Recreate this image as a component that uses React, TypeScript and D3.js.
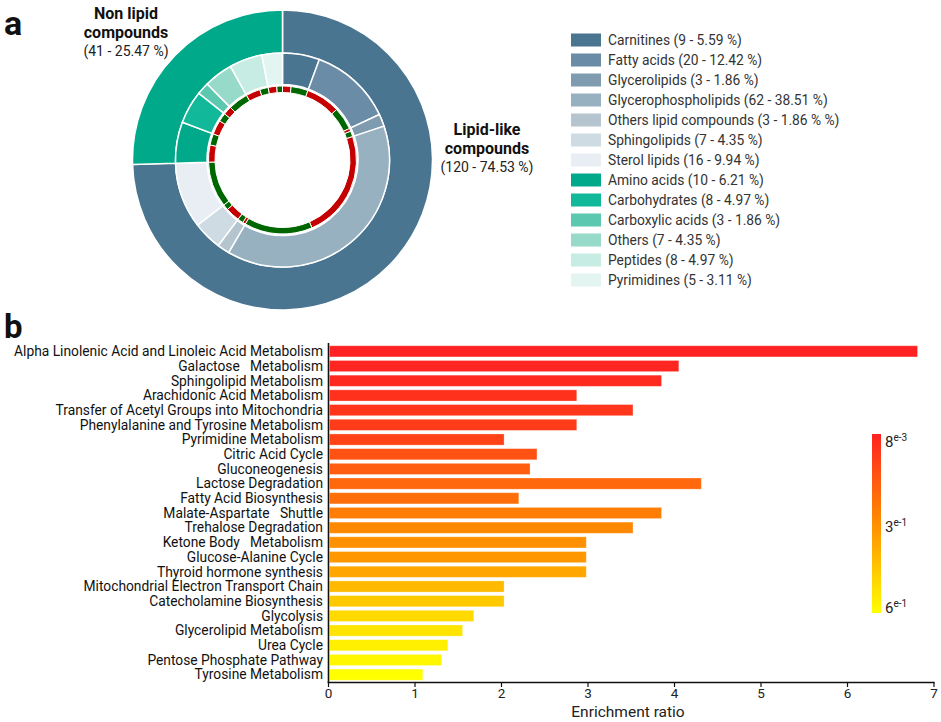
import React from 'react';
import * as d3 from 'd3';

// ---------- Panel a data ----------
const mainCategories = ['Lipid-like compounds', 'Non lipid compounds'];
const mainCounts = [120, 41];
const mainColors = ['#4a7591', '#00a98a'];

const subCategories = [
  'Carnitines', 'Fatty acids', 'Glycerolipids', 'Glycerophospholipids',
  'Others lipid compounds', 'Sphingolipids', 'Sterol lipids', 'Amino acids',
  'Carbohydrates', 'Carboxylic acids', 'Others', 'Peptides', 'Pyrimidines',
];
const subCounts = [9, 20, 3, 62, 3, 7, 16, 10, 8, 3, 7, 8, 5];
const subLegendLabels = [
  'Carnitines (9 - 5.59 %)', 'Fatty acids (20 - 12.42 %)', 'Glycerolipids (3 - 1.86 %)',
  'Glycerophospholipids (62 - 38.51 %)', 'Others lipid compounds (3 - 1.86 % %)',
  'Sphingolipids (7 - 4.35 %)', 'Sterol lipids (16 - 9.94 %)', 'Amino acids (10 - 6.21 %)',
  'Carbohydrates (8 - 4.97 %)', 'Carboxylic acids (3 - 1.86 %)', 'Others (7 - 4.35 %)',
  'Peptides (8 - 4.97 %)', 'Pyrimidines (5 - 3.11 %)',
];
const subColors = [
  '#4a7591', '#6a8ca6', '#7e9bb0', '#97b1c1', '#b4c5d0', '#cfdbe3', '#e8eef4',
  '#00a98a', '#12b89a', '#5cc8b0', '#98dac9', '#c6ece3', '#e3f5f1',
];
// up (red) / down (green) regulated counts per sub-category
const upCounts = [3, 12, 1, 38, 1, 5, 0, 6, 5, 3, 0, 5, 3];
const downCounts = [6, 8, 2, 24, 2, 2, 16, 4, 3, 0, 7, 3, 2];
const upColor = '#c40000';
const downColor = '#006600';

// ---------- Panel b data ----------
const pathways = [
  'Alpha Linolenic Acid and Linoleic Acid Metabolism',
  'Galactose   Metabolism',
  'Sphingolipid Metabolism',
  'Arachidonic Acid Metabolism',
  'Transfer of Acetyl Groups into Mitochondria',
  'Phenylalanine and Tyrosine Metabolism',
  'Pyrimidine Metabolism',
  'Citric Acid Cycle',
  'Gluconeogenesis',
  'Lactose Degradation',
  'Fatty Acid Biosynthesis',
  'Malate-Aspartate   Shuttle',
  'Trehalose Degradation',
  'Ketone Body   Metabolism',
  'Glucose-Alanine Cycle',
  'Thyroid hormone synthesis',
  'Mitochondrial Electron Transport Chain',
  'Catecholamine Biosynthesis',
  'Glycolysis',
  'Glycerolipid Metabolism',
  'Urea Cycle',
  'Pentose Phosphate Pathway',
  'Tyrosine Metabolism',
];
const enrichment = [
  6.81, 4.05, 3.85, 2.87, 3.52, 2.87, 2.03, 2.41, 2.33, 4.31, 2.2, 3.85,
  3.52, 2.98, 2.98, 2.98, 2.03, 2.03, 1.68, 1.55, 1.38, 1.31, 1.09,
];
const pValues = [
  0.008, 0.02, 0.03, 0.05, 0.06, 0.08, 0.1, 0.14, 0.17, 0.2, 0.22, 0.26,
  0.29, 0.31, 0.33, 0.37, 0.42, 0.46, 0.5, 0.53, 0.56, 0.58, 0.6,
];
const xTicks = [0, 1, 2, 3, 4, 5, 6, 7];
const colorTicks = [
  { v: 0.008, base: '8', exp: 'e-3' },
  { v: 0.3, base: '3', exp: 'e-1' },
  { v: 0.6, base: '6', exp: 'e-1' },
];

const FONT = 'Roboto, "Noto Sans", Arial, sans-serif';

export default function App() {
  const cx = 282.5;
  const cy = 160;

  const pie = d3.pie<number>().sort(null).value((d) => d);
  const outerArcs = pie(mainCounts);
  const midArcs = pie(subCounts);

  const innerValues: { v: number; up: boolean }[] = [];
  subCategories.forEach((_, i) => {
    if (upCounts[i] > 0) innerValues.push({ v: upCounts[i], up: true });
    if (downCounts[i] > 0) innerValues.push({ v: downCounts[i], up: false });
  });
  const innerPie = d3.pie<{ v: number; up: boolean }>().sort(null).value((d) => d.v);
  const innerArcs = innerPie(innerValues);

  const outerArc = d3.arc<d3.PieArcDatum<number>>().innerRadius(107).outerRadius(150);
  const midArc = d3.arc<d3.PieArcDatum<number>>().innerRadius(75.5).outerRadius(107);
  const innerArc = d3
    .arc<d3.PieArcDatum<{ v: number; up: boolean }>>()
    .innerRadius(67.5)
    .outerRadius(74);

  // bar chart scales
  const x = d3.scaleLinear().domain([0, 7]).range([328.5, 934]);
  const y = d3.scaleBand<string>().domain(pathways).range([344, 682]).paddingInner(0.24).paddingOuter(0.12);
  const color = d3
    .scaleLinear<string>()
    .domain([0.008, 0.3, 0.6])
    .range(['#ff2222', '#ff8c00', '#ffff00']);
  const colorY = d3.scaleLinear().domain([0.008, 0.6]).range([434, 613]);
  const gradStops = d3.range(0, 1.0001, 0.1).map((t) => {
    const v = 0.008 + t * (0.6 - 0.008);
    return { offset: t, c: color(v) };
  });
  const labelOffsets = [13, 10, 0];

  return (
    <svg
      width={941}
      height={722}
      style={{ position: 'absolute', left: 0, top: 0, background: '#fff' }}
      fontFamily={FONT}
    >
      <defs>
        <linearGradient id="cbar" x1="0" y1="0" x2="0" y2="1">
          {gradStops.map((s, i) => (
            <stop key={i} offset={s.offset} stopColor={s.c} />
          ))}
        </linearGradient>
      </defs>
      <rect x={0} y={0} width={941} height={722} fill="#fff" />

      {/* Panel labels */}
      <text x={4} y={35} fontSize={34} fontWeight={700} fill="#111">a</text>
      <text x={4} y={338} fontSize={33} fontWeight={700} fill="#111">b</text>

      {/* Donut */}
      <g transform={`translate(${cx},${cy})`}>
        {outerArcs.map((a, i) => (
          <path key={'o' + i} d={outerArc(a) || ''} fill={mainColors[i]} stroke="#fff" strokeWidth={1.5} />
        ))}
        {midArcs.map((a, i) => (
          <path key={'m' + i} d={midArc(a) || ''} fill={subColors[i]} stroke="#fff" strokeWidth={1.5} />
        ))}
        {innerArcs.map((a, i) => (
          <path
            key={'i' + i}
            d={innerArc(a) || ''}
            fill={a.data.up ? upColor : downColor}
            stroke="#fff"
            strokeWidth={1}
          />
        ))}
      </g>

      {/* Donut labels */}
      <g fill="#111" textAnchor="middle">
        <text x={126} y={19} fontSize={16} fontWeight={700}>Non lipid</text>
        <text x={126} y={38} fontSize={16} fontWeight={700}>compounds</text>
        <text x={126} y={56} fontSize={14} fill="#222">(41 - 25.47 %)</text>
        <text x={487} y={135} fontSize={16} fontWeight={700}>Lipid-like</text>
        <text x={487} y={154} fontSize={16} fontWeight={700}>compounds</text>
        <text x={487} y={172} fontSize={14} fill="#222">(120 - 74.53 %)</text>
      </g>

      {/* Legend */}
      <g>
        {subLegendLabels.map((lab, i) => (
          <g key={'l' + i} transform={`translate(571,${33.5 + i * 20})`}>
            <rect x={0} y={0} width={30} height={13} fill={subColors[i]} />
            <text x={37} y={11.5} fontSize={13.8} fill="#333">{lab}</text>
          </g>
        ))}
      </g>

      {/* Bar chart */}
      <g>
        {pathways.map((p, i) => (
          <rect
            key={'b' + i}
            x={x(0) + 1}
            y={y(p)}
            width={x(enrichment[i]) - x(0) - 1}
            height={y.bandwidth()}
            fill={color(pValues[i])}
            stroke="rgba(255,255,255,0.35)"
            strokeWidth={0.8}
          />
        ))}
        {pathways.map((p, i) => (
          <text
            key={'t' + i}
            x={323}
            y={(y(p) || 0) + y.bandwidth() / 2 + 4.8}
            fontSize={13.8}
            textAnchor="end"
            fill="#111"
            style={{ whiteSpace: 'pre' }}
          >
            {p}
          </text>
        ))}
        {/* axes */}
        <line x1={x(0)} x2={x(0)} y1={343} y2={683} stroke="#111" strokeWidth={1.6} />
        <line x1={x(0) - 0.8} x2={x(7) + 0.5} y1={682.5} y2={682.5} stroke="#111" strokeWidth={1.6} />
        {xTicks.map((t) => (
          <g key={'x' + t}>
            <line x1={x(t)} x2={x(t)} y1={682} y2={687} stroke="#111" strokeWidth={1.2} />
            <text x={x(t)} y={698} fontSize={13.5} textAnchor="middle" fill="#222">{t}</text>
          </g>
        ))}
        <text x={628} y={717} fontSize={15.5} textAnchor="middle" fill="#222">Enrichment ratio</text>
      </g>

      {/* Color bar */}
      <rect x={872} y={colorY(0.008)} width={9} height={colorY(0.6) - colorY(0.008)} fill="url(#cbar)" />
      {colorTicks.map((c, i) => (
        <text key={'c' + i} x={885} y={colorY(c.v) + labelOffsets[i]} fontSize={15} fill="#222">
          {c.base}
          <tspan fontSize={10} dy={-6}>{c.exp}</tspan>
        </text>
      ))}
    </svg>
  );
}
